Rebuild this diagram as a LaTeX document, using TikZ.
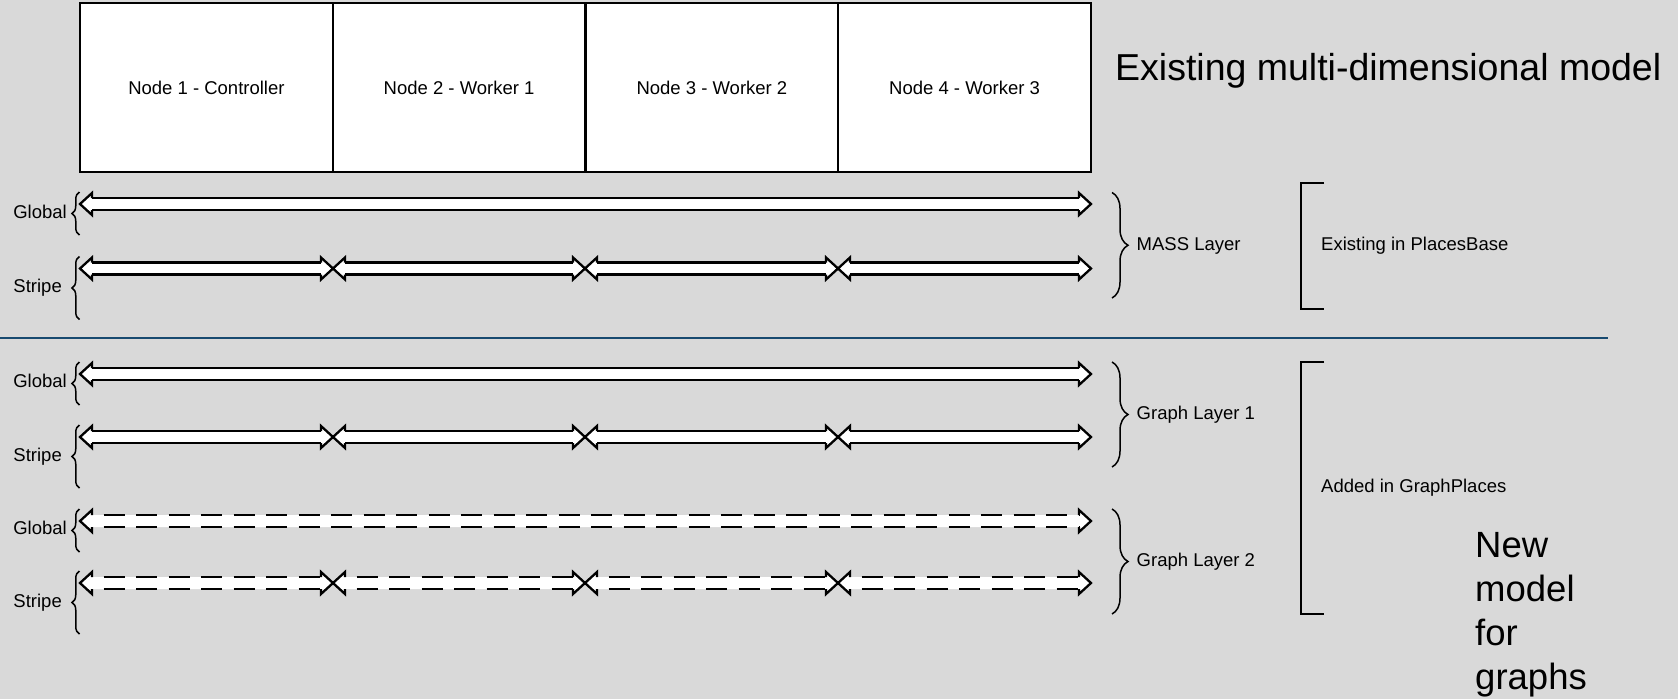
\documentclass[tikz,border=0pt]{standalone}
\usepackage{fontspec}
\setmainfont{Liberation Sans}
\usetikzlibrary{decorations.pathreplacing}
\definecolor{bggray}{RGB}{217,217,217}
\definecolor{sepblue}{RGB}{24,74,112}
\def\ahl{12}\def\ahw{11}\def\asw{6}
\tikzset{
  arrline/.style={line width=2.3pt, draw=black, line join=miter, line cap=butt},
  dashedshaft/.style={dash pattern=on 21pt off 11.5pt, dash phase=21pt},
  solidshaft/.style={},
  nodebox/.style={draw, fill=white, line width=2pt, minimum width=252.75pt, minimum height=169pt, inner sep=0pt, font=\fontsize{18.5}{22}\selectfont},
  lbl/.style={inner sep=0pt, font=\fontsize{18.5}{22}\selectfont},
  biglbl/.style={inner sep=0pt, font=\fontsize{37.5}{44}\selectfont},
  lbrace/.style={decorate, decoration={brace, amplitude=7.5pt}, line width=1.5pt},
  rbrace/.style={decorate, decoration={brace, amplitude=16pt}, line width=1.5pt},
  bracket/.style={line width=2pt, line cap=butt},
}
% #1 left tip x, #2 right tip x, #3 centre y, #4 shaft style
\newcommand\dblarr[4]{%
  \fill[white] (#1,#3) -- ({#1+\ahl},{#3-\ahw}) -- ({#1+\ahl},{#3-\asw}) -- ({#2-\ahl},{#3-\asw})
    -- ({#2-\ahl},{#3-\ahw}) -- (#2,#3) -- ({#2-\ahl},{#3+\ahw}) -- ({#2-\ahl},{#3+\asw})
    -- ({#1+\ahl},{#3+\asw}) -- ({#1+\ahl},{#3+\ahw}) -- cycle;
  \draw[arrline] ({#1+\ahl},{#3-\asw}) -- ({#1+\ahl},{#3-\ahw}) -- (#1,#3) -- ({#1+\ahl},{#3+\ahw}) -- ({#1+\ahl},{#3+\asw});
  \draw[arrline] ({#2-\ahl},{#3-\asw}) -- ({#2-\ahl},{#3-\ahw}) -- (#2,#3) -- ({#2-\ahl},{#3+\ahw}) -- ({#2-\ahl},{#3+\asw});
  \draw[arrline,#4] ({#1+\ahl},{#3-\asw}) -- ({#2-\ahl},{#3-\asw});
  \draw[arrline,#4] ({#1+\ahl},{#3+\asw}) -- ({#2-\ahl},{#3+\asw});
}
% #1 global y, #2 stripe y, #3 shaft style
\newcommand\layerrows[3]{%
  \dblarr{80}{1091}{#1}{#3}
  \dblarr{80}{333}{#2}{#3}
  \dblarr{333}{585}{#2}{#3}
  \dblarr{585}{838}{#2}{#3}
  \dblarr{838}{1091}{#2}{#3}
  \draw[lbrace] (79.5,{#1+31}) -- (79.5,{#1-12});
  \draw[lbrace] (79.5,{#2+51}) -- (79.5,{#2-12});
}
\begin{document}
\begin{tikzpicture}[x=1pt,y=-1pt]
\fill[bggray] (0,0) rectangle (1678,699);
\useasboundingbox (0,0) rectangle (1678,699);

% machine nodes
\node[nodebox] (n1) at (206.4,87.5) {Node 1 - Controller};
\node[nodebox] (n2) at (459.1,87.5) {Node 2 - Worker 1};
\node[nodebox] (n3) at (711.9,87.5) {Node 3 - Worker 2};
\node[nodebox] (n4) at (964.6,87.5) {Node 4 - Worker 3};

\node[biglbl, anchor=base west] (title) at (1115,80) {Existing multi-dimensional model};

% MASS layer
\layerrows{204}{268.5}{solidshaft}
\node[lbl, anchor=base east] (g1) at (67,218) {Global};
\node[lbl, anchor=base east] (s1) at (62,292.5) {Stripe};
\draw[rbrace] (1112,192.5) -- (1112,298);
\node[lbl, anchor=base west] (mass) at (1136.5,250.5) {MASS Layer};
\draw[bracket] (1324,182.7) -- (1301,182.7) -- (1301,309.3) -- (1324,309.3);
\node[lbl, anchor=base west] (exist) at (1321,250) {Existing in PlacesBase};

% separator
\draw[sepblue, line width=2.2pt] (0,338) -- (1607.7,338);

% Graph layer 1
\layerrows{374}{437}{solidshaft}
\node[lbl, anchor=base east] (g2) at (67,387.5) {Global};
\node[lbl, anchor=base east] (s2) at (62,461) {Stripe};
\draw[rbrace] (1112,362) -- (1112,467);
\node[lbl, anchor=base west] (gl1) at (1136.5,419.5) {Graph Layer 1};

% Graph layer 2
\layerrows{521}{583}{dashedshaft}
\node[lbl, anchor=base east] (g3) at (67,534.5) {Global};
\node[lbl, anchor=base east] (s3) at (62,607.5) {Stripe};
\draw[rbrace] (1112,509) -- (1112,614);
\node[lbl, anchor=base west] (gl2) at (1136.5,566.5) {Graph Layer 2};

\draw[bracket] (1324,361.7) -- (1301,361.7) -- (1301,614.3) -- (1324,614.3);
\node[lbl, anchor=base west] (added) at (1321,492) {Added in GraphPlaces};

\node[biglbl, anchor=base west, align=left, font=\fontsize{36.5}{44}\selectfont] (newm) at (1475,689) {New\\model\\for\\graphs};
\end{tikzpicture}
\end{document}
